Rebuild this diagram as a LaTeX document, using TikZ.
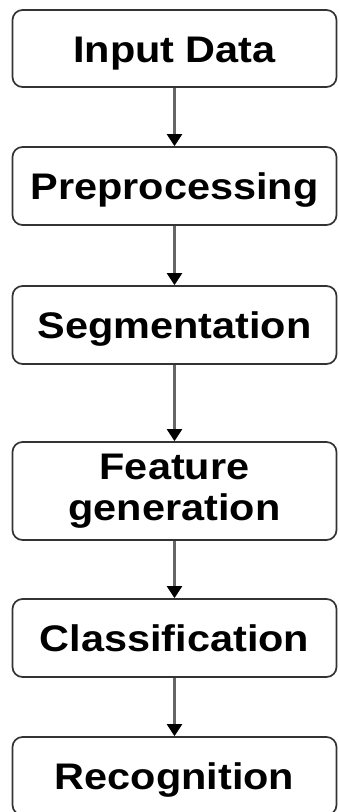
\documentclass[tikz,border=0pt]{standalone}
\usepackage{fontspec}
\newfontfamily\stagefont{Liberation Sans}[FakeStretch=1.12]
\usetikzlibrary{arrows.meta}
\tikzset{
  stage/.style={draw=black!80,line width=1.7pt,rounded corners=10pt,
    minimum width=324pt,minimum height=78pt,align=center,
    font=\stagefont\bfseries\fontsize{37}{41}\selectfont},
  oneline/.style={stage,text height=27pt,text depth=0pt},
  flow/.style={draw=black!60,line width=2.2pt,
    -{Triangle[width=15pt,length=12pt,black]}}
}
\begin{document}
\begin{tikzpicture}[x=1pt,y=1pt]
 \useasboundingbox (0,0) rectangle (338,-812);
 \node[oneline,minimum height=77pt] (input) at (174.5,-48.5) {Input Data};
 \node[oneline] (prep) at (174.5,-186) {Preprocessing};
 \node[oneline] (seg) at (174.5,-325) {Segmentation};
 \node[stage,minimum height=98pt] (feat) at (174.5,-491) {Feature\\generation};
 \node[oneline] (class) at (174.5,-638) {Classification};
 \node[oneline] (recog) at (174.5,-776) {Recognition};
 \draw[flow] (input) -- (prep);
 \draw[flow] (prep) -- (seg);
 \draw[flow] (seg) -- (feat);
 \draw[flow] (feat) -- (class);
 \draw[flow] (class) -- (recog);
\end{tikzpicture}
\end{document}
